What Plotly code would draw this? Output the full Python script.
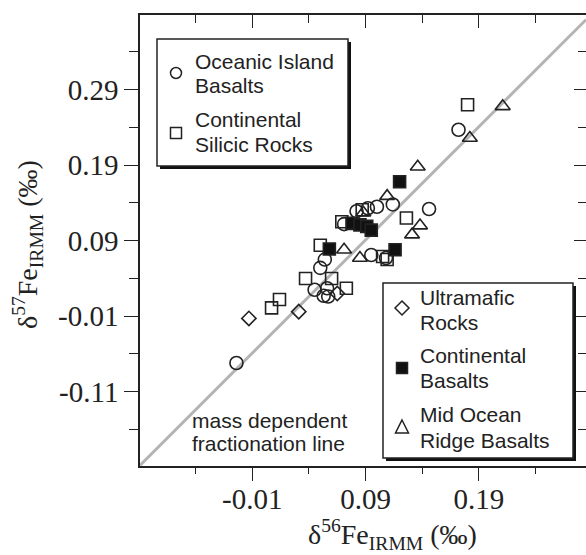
import plotly.graph_objects as go

# ---------------- data ----------------
oib_x = [-0.024, 0.172, 0.146, 0.114, 0.100, 0.092, 0.082, 0.071, 0.095, 0.108, 0.054, 0.050, 0.045, 0.056, 0.057, 0.053]
oib_y = [-0.072, 0.237, 0.132, 0.138, 0.135, 0.133, 0.129, 0.112, 0.071, 0.067, 0.065, 0.054, 0.025, 0.027, 0.016, 0.017]

csr_x = [0.180, 0.126, 0.069, 0.050, 0.105, 0.109, 0.037, 0.060, 0.073, 0.014, 0.007, 0.087]
csr_y = [0.270, 0.120, 0.115, 0.084, 0.069, 0.065, 0.040, 0.040, 0.027, 0.012, 0.001, 0.131]

um_x = [-0.013, 0.031, 0.065]
um_y = [-0.013, -0.004, 0.020]

cb_x = [0.120, 0.078, 0.085, 0.091, 0.095, 0.058, 0.116]
cb_y = [0.168, 0.113, 0.111, 0.109, 0.104, 0.079, 0.078]

morb_x = [0.211, 0.182, 0.136, 0.109, 0.088, 0.138, 0.131, 0.071, 0.085]
morb_y = [0.268, 0.226, 0.188, 0.149, 0.127, 0.110, 0.098, 0.078, 0.067]

x_tickvals = [-0.01, 0.09, 0.19]
x_ticktext = ["-0.01", "0.09", "0.19"]
y_tickvals = [-0.11, -0.01, 0.09, 0.19, 0.29]
y_ticktext = ["-0.11", "-0.01", "0.09", "0.19", "0.29"]

line_slope = 1.5
line_intercept = -0.044

legend1_labels = [["Oceanic Island", "Basalts"], ["Continental", "Silicic Rocks"]]
legend2_labels = [["Ultramafic", "Rocks"], ["Continental", "Basalts"], ["Mid Ocean", "Ridge Basalts"]]

# ---------------- layout geometry ----------------
W, H = 586, 555
L, R, T, B = 140, 0, 15, 89
PW, PH = W - L - R, H - T - B
xr = [-0.1091, 0.2845]
yr = [-0.2085, 0.389]

def px(x):
    return (x - L) / PW

def py(y):
    return 1 - (y - T) / PH

ink = "#222222"
fig = go.Figure()

# mass dependent fractionation line
lx = [xr[0], xr[1]]
ly = [line_slope * v + line_intercept for v in lx]
fig.add_trace(go.Scatter(x=lx, y=ly, mode="lines",
                         line=dict(color="#b4b4b4", width=3), showlegend=False, hoverinfo="skip"))

def add_pts(xs, ys, symbol, size, color=ink):
    fig.add_trace(go.Scatter(x=xs, y=ys, mode="markers", showlegend=False,
                             marker=dict(symbol=symbol, size=size, color=color,
                                         line=dict(color=ink, width=1.6))))

add_pts(oib_x, oib_y, "circle-open", 13)
add_pts(csr_x, csr_y, "square-open", 12)
add_pts(um_x, um_y, "diamond-open", 11)
add_pts(morb_x, morb_y, "triangle-up-open", 13)
add_pts(cb_x, cb_y, "square", 12, "#111111")

# ---------------- axes ----------------
serif = dict(family="Liberation Serif", size=29, color=ink)
axis_common = dict(showgrid=False, zeroline=False, showline=True, linecolor=ink, linewidth=1.6,
                   tickcolor=ink, tickwidth=1.3, tickfont=serif)

def minor(kind, length):
    return dict(tickmode="linear", tick0=-0.01, dtick=0.05, ticks=kind,
                ticklen=length, tickcolor=ink, tickwidth=1.3)

fig.update_layout(
    width=W, height=H, margin=dict(l=L, r=R, t=T, b=B),
    paper_bgcolor="white", plot_bgcolor="white", showlegend=False,
    # bottom axis: labels only
    xaxis=dict(range=xr, tickmode="array", tickvals=x_tickvals, ticktext=x_ticktext,
               ticks="", ticklabelstandoff=6, **axis_common),
    # bottom axis tick marks
    xaxis3=dict(range=xr, overlaying="x", side="bottom", anchor="y", matches="x",
                tickmode="array", tickvals=x_tickvals, showticklabels=False,
                ticks="outside", ticklen=13, minor=minor("outside", 6), **axis_common),
    yaxis=dict(range=yr, tickmode="array", tickvals=y_tickvals, ticktext=y_ticktext,
               ticks="outside", ticklen=14, ticklabelstandoff=0,
               minor=minor("outside", 9), **axis_common),
    xaxis2=dict(range=xr, overlaying="x", side="top", matches="x", tickmode="array",
                tickvals=x_tickvals, showticklabels=False, ticks="inside", ticklen=13,
                minor=minor("inside", 8), **axis_common),
    yaxis2=dict(range=yr, overlaying="y", side="right", matches="y", tickmode="array",
                tickvals=y_tickvals, showticklabels=False, ticks="inside", ticklen=12,
                minor=minor("inside", 8), **axis_common),
)
# invisible traces to activate the secondary axes
fig.add_trace(go.Scatter(x=[xr[0]], y=[yr[0]], xaxis="x2", yaxis="y2", mode="markers",
                         marker=dict(opacity=0), showlegend=False, hoverinfo="skip"))
fig.add_trace(go.Scatter(x=[xr[0]], y=[yr[0]], xaxis="x3", yaxis="y", mode="markers",
                         marker=dict(opacity=0), showlegend=False, hoverinfo="skip"))

# ---------------- axis titles ----------------
fig.add_annotation(text="δ<sup>56</sup>Fe<sub>IRMM</sub> (‰)", xref="paper", yref="paper",
                   x=px(392), y=py(534), xanchor="center", yanchor="middle", showarrow=False,
                   font=dict(family="Liberation Serif", size=28, color=ink))
fig.add_annotation(text="δ<sup>57</sup>Fe<sub>IRMM</sub> (‰)", xref="paper", yref="paper",
                   x=px(27), y=py(245), xanchor="center", yanchor="middle", showarrow=False,
                   textangle=-90, font=dict(family="Liberation Serif", size=28, color=ink))

# ---------------- legends (boxes with drop shadow) ----------------
sans = dict(family="Liberation Sans", size=21, color=ink)

def box(x0, y0, x1, y1):
    fig.add_shape(type="rect", xref="paper", yref="paper", x0=px(x0 + 3), x1=px(x1 + 3),
                  y0=py(y0 + 3), y1=py(y1 + 3), fillcolor="#111111", line=dict(width=0))
    fig.add_shape(type="rect", xref="paper", yref="paper", x0=px(x0), x1=px(x1),
                  y0=py(y0), y1=py(y1), fillcolor="white", line=dict(color=ink, width=1.5))

def label(lines, x, ys):
    for t, yy in zip(lines, ys):
        fig.add_annotation(text=t, xref="paper", yref="paper", x=px(x), y=py(yy),
                           xanchor="left", yanchor="middle", showarrow=False, font=sans)

def icon_circle(cx, cy, r=5.5):
    fig.add_shape(type="circle", xref="paper", yref="paper", x0=px(cx - r), x1=px(cx + r),
                  y0=py(cy - r), y1=py(cy + r), line=dict(color=ink, width=1.5))

def icon_square(cx, cy, h=5.5, fill=None):
    fig.add_shape(type="rect", xref="paper", yref="paper", x0=px(cx - h), x1=px(cx + h),
                  y0=py(cy - h), y1=py(cy + h), line=dict(color=ink, width=1.5),
                  fillcolor=fill if fill else "rgba(0,0,0,0)")

def icon_path(pts):
    d = "M " + " L ".join(f"{px(a)},{py(b)}" for a, b in pts) + " Z"
    fig.add_shape(type="path", xref="paper", yref="paper", path=d, line=dict(color=ink, width=1.5))

box(157, 39, 348, 166)
icon_circle(176, 73)
icon_square(176, 133)
label(legend1_labels[0], 193, [61, 85])
label(legend1_labels[1], 193, [119, 144])

box(383, 283, 573, 458)
icon_path([(402, 301), (409, 308), (402, 315), (395, 308)])
icon_square(402, 368, fill="#111111")
icon_path([(402, 420), (408.5, 433), (395.5, 433)])
label(legend2_labels[0], 418, [297, 322])
label(legend2_labels[1], 418, [355, 380])
label(legend2_labels[2], 418, [414, 440])

# line caption
label(["mass dependent", "fractionation line"], 190, [420, 443])

fig.write_html("out.html")
